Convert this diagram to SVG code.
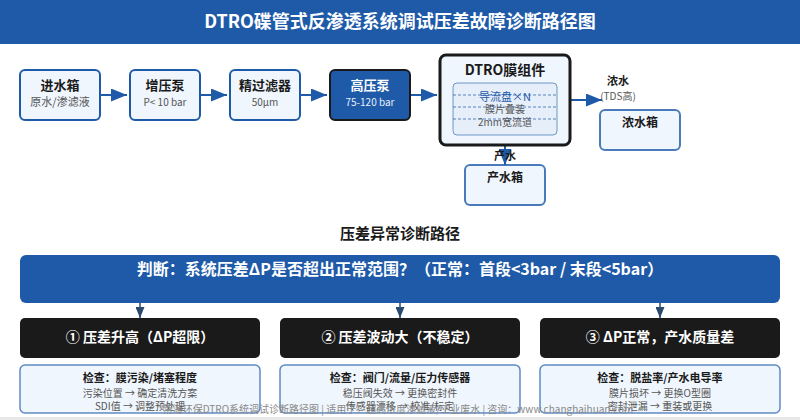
<svg xmlns="http://www.w3.org/2000/svg" width="800" height="420" viewBox="0 0 800 420">
<style>
text{font-family:"Noto Sans CJK SC","Noto Sans",sans-serif;text-anchor:middle}
.n{fill:#f0f6fd;stroke:#1e5aa8;stroke-width:2}
.b{font-size:13px;font-weight:700;fill:#1a1a1a}
.b2{font-size:12px;font-weight:700;fill:#1a1a1a}
.s{font-size:10px;fill:#555}
.lb{font-size:11px;font-weight:700;fill:#1a1a1a}
.l{stroke:#1e5aa8;stroke-width:2;fill:none}
.d{stroke:#2c4a6e;stroke-width:1.5}
.da{stroke:#1e5aa8;stroke-width:1;stroke-dasharray:3 2;opacity:.7}
.k{fill:#1a1a1a}
.w{font-size:14px;font-weight:700;fill:#fff}
.c{fill:#f0f6fd;stroke:#1e5aa8;stroke-width:1.5;stroke-opacity:.7}
.t{font-size:11px;font-weight:700;fill:#1a1a1a}
.u{font-size:10px;fill:#555}
</style>
<defs>
<marker id="a" markerWidth="16" markerHeight="13" refX="16" refY="6.5" orient="auto" markerUnits="userSpaceOnUse"><path d="M0 0L16 6.5L0 13z" fill="#1e5aa8"/></marker>
<marker id="e" markerWidth="9" markerHeight="11" refX="4.5" refY="11" orient="0" markerUnits="userSpaceOnUse"><path d="M0 0L9 0L4.5 11z" fill="#2c4a6e"/></marker>
</defs>
<rect width="800" height="420" fill="#fff"/>
<g id="header"><rect width="800" height="44" fill="#1e5aa8"/><text x="400" y="28" font-size="18" font-weight="700" fill="#fff">DTRO碟管式反渗透系统调试压差故障诊断路径图</text></g>
<g id="connectors">
<line class="l" x1="101" y1="95" x2="127" y2="95" marker-end="url(#a)"/>
<line class="l" x1="201" y1="95" x2="227" y2="95" marker-end="url(#a)"/>
<line class="l" x1="301" y1="95" x2="327" y2="95" marker-end="url(#a)"/>
<line class="l" x1="411" y1="95" x2="437" y2="95" marker-end="url(#a)"/>
<line class="l" x1="571" y1="100" x2="602" y2="100" marker-end="url(#a)"/>
<line class="l" x1="505" y1="145" x2="505" y2="165" marker-end="url(#a)"/>
<line class="d" x1="140" y1="303" x2="140" y2="318" marker-end="url(#e)"/>
<line class="d" x1="400" y1="303" x2="400" y2="318" marker-end="url(#e)"/>
<line class="d" x1="660" y1="303" x2="660" y2="318" marker-end="url(#e)"/>
</g>
<g id="n1"><rect class="n" x="20" y="70" width="80" height="50" rx="5"/><text class="b" x="60" y="90">进水箱</text><text x="60" y="106" font-size="11" fill="#555">原水/渗滤液</text></g>
<g id="n2"><rect class="n" x="130" y="70" width="70" height="50" rx="5"/><text class="b" x="165" y="90">增压泵</text><text class="s" x="165" y="106">P&lt; 10 bar</text></g>
<g id="n3"><rect class="n" x="230" y="70" width="70" height="50" rx="5"/><text class="b" x="265" y="90">精过滤器</text><text class="s" x="265" y="106">50μm</text></g>
<g id="n4"><rect x="330" y="70" width="80" height="50" rx="5" fill="#1e5aa8" stroke="#1a1a1a" stroke-width="2"/><text class="b" x="370" y="90" style="fill:#fff">高压泵</text><text class="s" x="370" y="106" style="fill:#e6eefa">75-120 bar</text></g>
<g id="dtro"><rect x="440" y="55" width="130" height="90" rx="6" fill="#f0f6fd" stroke="#1a1a1a" stroke-width="3"/><text x="505" y="75" font-size="14" font-weight="700" fill="#1a1a1a">DTRO膜组件</text>
<rect x="453" y="83" width="104" height="52" rx="4" fill="#e6eefa" stroke="#1e5aa8" stroke-opacity=".6"/>
<line class="da" x1="453" y1="95" x2="557" y2="95"/><line class="da" x1="453" y1="107" x2="557" y2="107"/><line class="da" x1="453" y1="119" x2="557" y2="119"/>
<text x="505" y="101" font-size="11" fill="#1e5aa8">导流盘×N</text><text class="s" x="505" y="113">膜片叠装</text><text class="s" x="505" y="126">2mm宽流道</text></g>
<g id="lab"><text class="lb" x="618" y="85">浓水</text><text class="s" x="618" y="100">(TDS高)</text><text class="lb" x="505" y="160">产水</text></g>
<g id="n5"><rect class="n" x="600" y="110" width="80" height="40" rx="5" stroke-opacity=".8"/><text class="b2" x="640" y="127">浓水箱</text></g>
<g id="n6"><rect class="n" x="465" y="165" width="80" height="40" rx="5" stroke-opacity=".8"/><text class="b2" x="505" y="182">产水箱</text></g>
<text x="400" y="239" font-size="15" font-weight="700" fill="#1a1a1a">压差异常诊断路径</text>
<g id="q"><rect x="20" y="255" width="760" height="48" rx="6" fill="#1e5aa8"/><text x="400" y="275" font-size="16" font-weight="700" fill="#fff">判断：系统压差ΔP是否超出正常范围？（正常：首段&lt;3bar / 末段&lt;5bar）</text></g>
<g id="p1"><rect class="k" x="20" y="318" width="240" height="40" rx="5"/><text class="w" x="140" y="342">① 压差升高（ΔP超限）</text></g>
<g id="p2"><rect class="k" x="280" y="318" width="240" height="40" rx="5"/><text class="w" x="400" y="342">② 压差波动大（不稳定）</text></g>
<g id="p3"><rect class="k" x="540" y="318" width="240" height="40" rx="5"/><text class="w" x="660" y="342">③ ΔP正常，产水质量差</text></g>
<g id="c1"><rect class="c" x="20" y="365" width="240" height="48" rx="5"/><text class="t" x="140" y="382">检查：膜污染/堵塞程度</text><text class="u" x="140" y="397">污染位置 → 确定清洗方案</text><text class="u" x="140" y="410">SDI值 → 调整预处理</text></g>
<g id="c2"><rect class="c" x="280" y="365" width="240" height="48" rx="5"/><text class="t" x="400" y="382">检查：阀门/流量/压力传感器</text><text class="u" x="400" y="397">稳压阀失效 → 更换密封件</text><text class="u" x="400" y="410">传感器漂移 → 校准/标定</text></g>
<g id="c3"><rect class="c" x="540" y="365" width="240" height="48" rx="5"/><text class="t" x="660" y="382">检查：脱盐率/产水电导率</text><text class="u" x="660" y="397">膜片损坏 → 更换O型圈</text><text class="u" x="660" y="410">密封泄漏 → 重装或更换</text></g>
<g id="footer"><rect y="417" width="800" height="3" fill="#e8e8e8"/><text x="398" y="413" font-size="10" fill="#888">常海环保DTRO系统调试诊断路径图 | 适用于：超高浓度渗滤液/工业废水 | 咨询：www.changhaihuan.com</text></g>
</svg>
